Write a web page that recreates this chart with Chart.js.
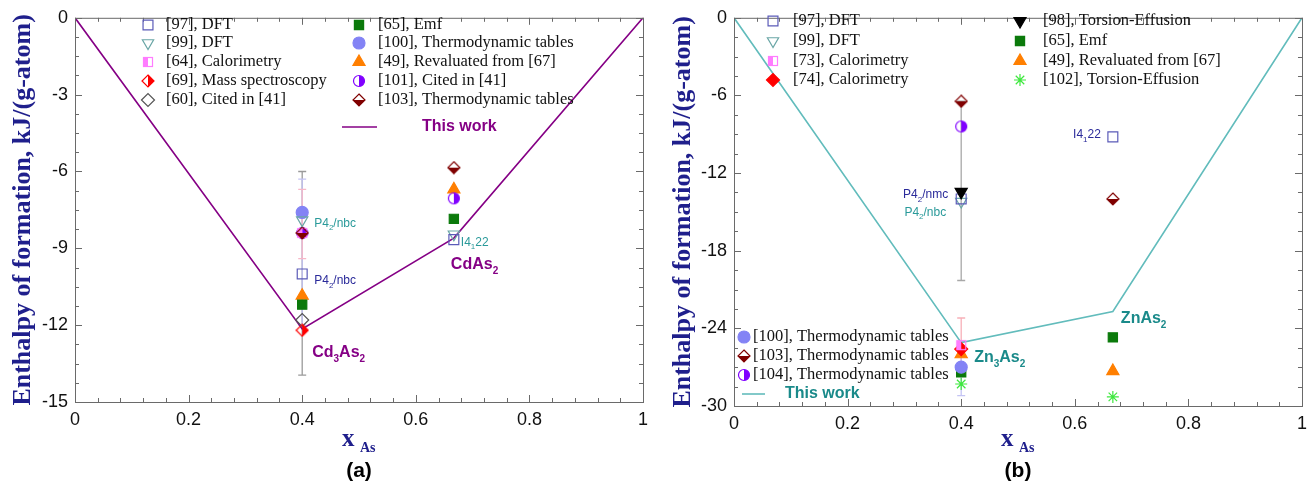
<!DOCTYPE html>
<html>
<head>
<meta charset="utf-8">
<script src="https://cdn.jsdelivr.net/npm/chart.js@4.4.0/dist/chart.umd.min.js"></script>
<style>
  body { margin: 0; background: #fff; width: 1314px; height: 492px; overflow: hidden; }
  canvas { position: absolute; top: 0; }
  #cdChart { left: 0; }
  #znChart { left: 660px; }
</style>
</head>
<body>
<canvas id="cdChart" width="660" height="492"></canvas>
<canvas id="znChart" width="654" height="492"></canvas>
<script>
// composition of the two arsenides in each system (x As)
const compX = [0.4, 0.667];

// (a) Cd-As, enthalpy of formation kJ/(g-atom), [at x=0.4, at x=0.667]
const cd97 = [-10.0, -8.66];
const cd99 = [-7.9, -8.45];
const cd64 = [-8.4, null];
const cd69 = [-12.2, null];
const cd60 = [-11.8, null];
const cd65 = [-11.2, -7.85];
const cd100 = [-7.6, null];
const cd49 = [-10.85, -6.7];
const cd101 = [-8.4, -7.05];
const cd103 = [-8.4, -5.85];
const cdWorkX = [0, 0.4, 0.667, 1];
const cdWorkY = [0, -12.15, -8.6, 0];
// error bars at x=0.4: [low, high]
const cdErr = [[-13.95, -6.0], [-12.0, -6.3], [-9.4, -6.7]];

// (b) Zn-As
const zn97 = [-14.0, -9.2];
const zn99 = [-14.2, null];
const zn73 = [-25.3, null];
const zn74 = [-25.6, null];
const zn98 = [-13.45, null];
const zn65 = [-27.4, -24.7];
const zn49 = [-26.0, -27.3];
const zn102 = [-28.3, -29.3];
const zn100 = [-27.0, null];
const zn103 = [-6.45, -14.0];
const zn104 = [-8.4, null];
const znWorkX = [0, 0.4, 0.667, 1];
const znWorkY = [0, -25.1, -22.7, 0];
const znErrX = [0.4, 0.4, 0.4, 0.667];
const znErr = [[-20.3, -6.45], [-27.0, -23.2], [-29.2, -25.0], [-25.0, -24.4]];

const xTicks = [0, 0.2, 0.4, 0.6, 0.8, 1];
const cdYTicks = [0, -3, -6, -9, -12, -15];
const znYTicks = [0, -6, -12, -18, -24, -30];

const sans = 'Liberation Sans, Arial, sans-serif';
const serif = 'Liberation Serif, Times New Roman, serif';
const navy = '#1f1f8c';

// half filled markers
function halfMarker(shape, color, fill) {
  const c = document.createElement('canvas');
  c.width = 14; c.height = 14;
  const g = c.getContext('2d');
  g.lineWidth = 1.2;
  g.strokeStyle = color;
  g.fillStyle = fill;
  if (shape === 'square') {
    g.fillRect(2.5, 2.5, 4.5, 9);
    g.strokeRect(2.5, 2.5, 9, 9);
  } else if (shape === 'diamondLR') {
    g.beginPath(); g.moveTo(7, 1); g.lineTo(13, 7); g.lineTo(7, 13); g.closePath(); g.fill();
    g.beginPath(); g.moveTo(7, 1); g.lineTo(13, 7); g.lineTo(7, 13); g.lineTo(1, 7); g.closePath(); g.stroke();
  } else if (shape === 'diamondTB') {
    g.beginPath(); g.moveTo(1, 7); g.lineTo(13, 7); g.lineTo(7, 13); g.closePath(); g.fill();
    g.beginPath(); g.moveTo(7, 1); g.lineTo(13, 7); g.lineTo(7, 13); g.lineTo(1, 7); g.closePath(); g.stroke();
  } else {
    g.beginPath(); g.arc(7, 7, 5.5, -Math.PI / 2, Math.PI / 2); g.closePath(); g.fill();
    g.beginPath(); g.arc(7, 7, 5.5, 0, Math.PI * 2); g.stroke();
  }
  return c;
}

const none = 'rgba(0,0,0,0)';
const mk = {
  s97: { pointStyle: 'rect', radius: 7, border: '#5b5bb8', fill: none },
  s99: { pointStyle: 'triangle', rotation: 180, radius: 6.5, border: '#6aa6a6', fill: none },
  s64: { pointStyle: halfMarker('square', '#ff7cff', '#ff7cff') },
  s73: { pointStyle: halfMarker('square', '#ff7cff', '#ff7cff') },
  s69: { pointStyle: halfMarker('diamondLR', '#ff0000', '#ff0000') },
  s74: { pointStyle: 'rectRot', radius: 6.5, border: '#ff0000', fill: '#ff0000' },
  s60: { pointStyle: 'rectRot', radius: 6.5, border: '#555', fill: none },
  s65: { pointStyle: 'rect', radius: 6.5, border: '#0b7a0b', fill: '#0b7a0b' },
  s100: { pointStyle: 'circle', radius: 6, border: '#8383f5', fill: '#8383f5' },
  s49: { pointStyle: 'triangle', radius: 7, border: '#ff7f00', fill: '#ff7f00' },
  s101: { pointStyle: halfMarker('circle', '#8000ff', '#8000ff') },
  s103: { pointStyle: halfMarker('diamondTB', '#800000', '#800000') },
  s98: { pointStyle: 'triangle', rotation: 180, radius: 7, border: '#000', fill: '#000' },
  s102: { pointStyle: 'star', radius: 6, border: '#3ee83e', fill: none }
};

function pts(vals, xs) {
  const out = [];
  vals.forEach((v, i) => { if (v !== null) out.push({ x: (xs || compX)[i], y: v }); });
  return out;
}

function markerSet(vals, key) {
  const m = mk[key];
  return {
    data: pts(vals),
    pointStyle: m.pointStyle,
    pointRadius: m.radius || 7,
    pointHoverRadius: m.radius || 7,
    pointRotation: m.rotation || 0,
    pointBorderColor: m.border || '#000',
    pointBackgroundColor: m.fill || none,
    pointBorderWidth: 1.2,
    showLine: false
  };
}

function lineSet(xs, ys, color) {
  return {
    data: ys.map((v, i) => ({ x: xs[i], y: v })),
    showLine: true, borderColor: color, borderWidth: 1.6,
    pointRadius: 0, pointHoverRadius: 0, fill: false, tension: 0
  };
}

function drawMarker(ctx, key, x, y) {
  const m = mk[key];
  ctx.save();
  ctx.strokeStyle = m.border || '#000';
  ctx.fillStyle = m.fill || none;
  ctx.lineWidth = 1.2;
  Chart.helpers.drawPoint(ctx, { pointStyle: m.pointStyle, radius: m.radius || 7, rotation: m.rotation || 0, borderWidth: 1.2 }, x, y);
  ctx.restore();
}

function richText(ctx, parts, x, y, size, weight, family, color, align) {
  ctx.save();
  ctx.fillStyle = color;
  ctx.textBaseline = 'alphabetic';
  ctx.textAlign = 'left';
  const fnt = p => `${weight} ${p[1] ? Math.round(size * 0.65) : size}px ${family}`;
  let w = 0;
  parts.forEach(p => { ctx.font = fnt(p); w += ctx.measureText(p[0]).width; });
  let cx = align === 'center' ? x - w / 2 : align === 'right' ? x - w : x;
  parts.forEach(p => {
    ctx.font = fnt(p);
    ctx.fillText(p[0], cx, y + (p[1] ? size * 0.3 : 0));
    cx += ctx.measureText(p[0]).width;
  });
  ctx.restore();
}

function makePanel(id, p) {
  const decor = {
    id: 'decor_' + id,
    beforeDatasetsDraw(chart) {
      const { ctx, scales: { x, y } } = chart;
      ctx.save();
      p.err.forEach((e, i) => {
        const px = x.getPixelForValue(p.errX[i]);
        const lo = y.getPixelForValue(e[0]), hi = y.getPixelForValue(e[1]);
        ctx.strokeStyle = p.errColors[i];
        ctx.lineWidth = 1.3;
        ctx.beginPath();
        ctx.moveTo(px, lo); ctx.lineTo(px, hi);
        ctx.moveTo(px - 4, lo); ctx.lineTo(px + 4, lo);
        ctx.moveTo(px - 4, hi); ctx.lineTo(px + 4, hi);
        ctx.stroke();
      });
      ctx.restore();
    },
    afterDraw(chart) {
      const { ctx, chartArea: a, scales: { x, y } } = chart;
      ctx.save();
      // frame and inward ticks
      ctx.strokeStyle = '#6a6a6a';
      ctx.lineWidth = 1;
      ctx.strokeRect(a.left + 0.5, a.top + 0.5, a.right - a.left, a.bottom - a.top);
      ctx.beginPath();
      for (let i = 0; i <= p.xMinorN; i++) {
        const v = i / p.xMinorN;
        const px = Math.round(x.getPixelForValue(v)) + 0.5;
        const len = i % p.xPer === 0 ? 7 : 4;
        ctx.moveTo(px, a.bottom); ctx.lineTo(px, a.bottom - len);
        ctx.moveTo(px, a.top); ctx.lineTo(px, a.top + len);
      }
      for (let i = 0; i <= p.yMinorN; i++) {
        const v = p.yMin * i / p.yMinorN;
        const py = Math.round(y.getPixelForValue(v)) + 0.5;
        const len = i % p.yPer === 0 ? 7 : 4;
        ctx.moveTo(a.left, py); ctx.lineTo(a.left + len, py);
        ctx.moveTo(a.right, py); ctx.lineTo(a.right - len, py);
      }
      ctx.stroke();

      // legend
      p.legend.forEach(l => {
        drawMarker(ctx, l[0], l[2], l[4]);
        ctx.fillStyle = '#111';
        ctx.font = `16.5px ${serif}`;
        ctx.textBaseline = 'middle';
        ctx.textAlign = 'left';
        ctx.fillText(l[1], l[3], l[4]);
      });
      const w = p.work;
      ctx.strokeStyle = p.lineColor; ctx.lineWidth = 1.6;
      ctx.beginPath(); ctx.moveTo(w[0], w[2]); ctx.lineTo(w[1], w[2]); ctx.stroke();
      ctx.fillStyle = p.workText;
      ctx.font = `bold 16px ${sans}`;
      ctx.fillText('This work', w[3], w[2]);

      // annotations anchored at data points
      p.notes.forEach(n => {
        richText(ctx, n.parts, x.getPixelForValue(n.x) + n.dx, y.getPixelForValue(n.y), n.size, n.bold ? 'bold' : 'normal', sans, n.color, n.align || 'left');
      });

      // axis titles
      ctx.save();
      ctx.translate(23, (a.top + a.bottom) / 2);
      ctx.rotate(-Math.PI / 2);
      ctx.fillStyle = navy;
      ctx.font = `bold 26px ${serif}`;
      ctx.textAlign = 'center';
      ctx.textBaseline = 'middle';
      ctx.fillText('Enthalpy of formation, kJ/(g-atom)', 0, 0);
      ctx.restore();
      const cx = (a.left + a.right) / 2;
      richText(ctx, [['x', 0]], cx - 17, 446, 25, 'bold', serif, navy, 'left');
      ctx.fillStyle = navy;
      ctx.font = `bold 14px ${serif}`;
      ctx.textAlign = 'left';
      ctx.textBaseline = 'alphabetic';
      ctx.fillText('As', cx + 1, 452);
      ctx.fillStyle = '#000';
      ctx.font = `bold 21px ${sans}`;
      ctx.textAlign = 'center';
      ctx.textBaseline = 'middle';
      ctx.fillText(p.tag, cx, 471);
      ctx.restore();
    }
  };

  return new Chart(document.getElementById(id), {
    type: 'scatter',
    data: { datasets: p.datasets },
    options: {
      responsive: false,
      animation: false,
      events: [],
      layout: { padding: { top: p.padTop, right: p.padRight, left: 0, bottom: 0 } },
      plugins: { legend: { display: false }, tooltip: { enabled: false } },
      scales: {
        x: {
          type: 'linear', min: 0, max: 1,
          afterBuildTicks: s => { s.ticks = xTicks.map(v => ({ value: v })); },
          ticks: { font: { family: sans, size: 18 }, color: '#111', padding: 7, maxRotation: 0, callback: v => String(v) },
          grid: { display: false, drawTicks: false },
          border: { display: false },
          afterFit: s => { s.height = p.xHeight; }
        },
        y: {
          type: 'linear', min: p.yMin, max: 0,
          afterBuildTicks: s => { s.ticks = p.yTicks.map(v => ({ value: v })); },
          ticks: { font: { family: sans, size: 18 }, color: '#111', padding: 7, callback: v => String(v) },
          grid: { display: false, drawTicks: false },
          border: { display: false },
          afterFit: s => { s.width = p.yWidth; }
        }
      }
    },
    plugins: [decor]
  });
}

makePanel('cdChart', {
  datasets: [
    markerSet(cd69, 's69'),
    markerSet(cd60, 's60'),
    markerSet(cd97, 's97'),
    markerSet(cd99, 's99'),
    markerSet(cd103, 's103'),
    markerSet(cd64, 's64'),
    markerSet(cd101, 's101'),
    markerSet(cd100, 's100'),
    markerSet(cd65, 's65'),
    markerSet(cd49, 's49'),
    lineSet(cdWorkX, cdWorkY, '#850085')
  ],
  err: cdErr, errX: [0.4, 0.4, 0.4], errColors: ['#9a9a9a', '#c4c4f4', '#f7b8c8'],
  yMin: -15, yTicks: cdYTicks, yMinorN: 20, yPer: 4, xMinorN: 25, xPer: 5,
  padTop: 14, padRight: 17, xHeight: 90, yWidth: 75,
  legend: [
    ['s97', '[97], DFT', 148, 166, 25],
    ['s99', '[99], DFT', 148, 166, 43],
    ['s64', '[64], Calorimetry', 148, 166, 62],
    ['s69', '[69], Mass spectroscopy', 148, 166, 81],
    ['s60', '[60], Cited in [41]', 148, 166, 100],
    ['s65', '[65], Emf', 359, 378, 25],
    ['s100', '[100], Thermodynamic tables', 359, 378, 43],
    ['s49', '[49], Revaluated from [67]', 359, 378, 62],
    ['s101', '[101], Cited in [41]', 359, 378, 81],
    ['s103', '[103], Thermodynamic tables', 359, 378, 100]
  ],
  work: [342, 377, 127, 422],
  lineColor: '#850085', workText: '#850085',
  notes: [
    { parts: [['P4', 0], ['2', 1], ['/nbc', 0]], x: 0.4, y: -8.15, dx: 12, size: 12, color: '#2a9a9a' },
    { parts: [['P4', 0], ['2', 1], ['/nbc', 0]], x: 0.4, y: -10.4, dx: 12, size: 12, color: '#2a2a9a' },
    { parts: [['I4', 0], ['1', 1], ['22', 0]], x: 0.667, y: -8.9, dx: 7, size: 12, color: '#2a9a9a' },
    { parts: [['Cd', 0], ['3', 1], ['As', 0], ['2', 1]], x: 0.4, y: -13.25, dx: 10, size: 16, bold: true, color: '#850085' },
    { parts: [['CdAs', 0], ['2', 1]], x: 0.667, y: -9.8, dx: -3, size: 16, bold: true, color: '#850085' }
  ],
  tag: '(a)'
});

makePanel('znChart', {
  datasets: [
    markerSet(zn98, 's98'),
    markerSet(zn97, 's97'),
    markerSet(zn99, 's99'),
    markerSet(zn103, 's103'),
    markerSet(zn104, 's101'),
    markerSet(zn73, 's73'),
    markerSet(zn74, 's74'),
    markerSet(zn49, 's49'),
    markerSet(zn100, 's100'),
    markerSet(zn65, 's65'),
    markerSet(zn102, 's102'),
    lineSet(znWorkX, znWorkY, '#62bcbc')
  ],
  err: znErr, errX: znErrX, errColors: ['#a8a8a8', '#f7b0b8', '#c4c4f4', '#6fb86f'],
  yMin: -30, yTicks: znYTicks, yMinorN: 20, yPer: 4, xMinorN: 25, xPer: 5,
  padTop: 10, padRight: 5, xHeight: 86, yWidth: 74,
  legend: [
    ['s97', '[97], DFT', 113, 133, 21],
    ['s99', '[99], DFT', 113, 133, 41],
    ['s73', '[73], Calorimetry', 113, 133, 61],
    ['s74', '[74], Calorimetry', 113, 133, 80],
    ['s98', '[98], Torsion-Effusion', 360, 383, 21],
    ['s65', '[65], Emf', 360, 383, 41],
    ['s49', '[49], Revaluated from [67]', 360, 383, 61],
    ['s102', '[102], Torsion-Effusion', 360, 383, 80],
    ['s100', '[100], Thermodynamic tables', 84, 93, 337],
    ['s103', '[103], Thermodynamic tables', 84, 93, 356],
    ['s101', '[104], Thermodynamic tables', 84, 93, 375]
  ],
  work: [82, 105, 394, 125],
  lineColor: '#62bcbc', workText: '#1a8a8a',
  notes: [
    { parts: [['P4', 0], ['2', 1], ['/nmc', 0]], x: 0.4, y: -13.95, dx: -13, size: 12, color: '#2a2a9a', align: 'right' },
    { parts: [['P4', 0], ['2', 1], ['/nbc', 0]], x: 0.4, y: -15.3, dx: -15, size: 12, color: '#2a9a9a', align: 'right' },
    { parts: [['I4', 0], ['1', 1], ['22', 0]], x: 0.667, y: -9.3, dx: -12, size: 12, color: '#2a2a9a', align: 'right' },
    { parts: [['ZnAs', 0], ['2', 1]], x: 0.667, y: -23.6, dx: 8, size: 16, bold: true, color: '#1a8a8a' },
    { parts: [['Zn', 0], ['3', 1], ['As', 0], ['2', 1]], x: 0.4, y: -26.6, dx: 13, size: 16, bold: true, color: '#1a8a8a' }
  ],
  tag: '(b)'
});
</script>
</body>
</html>
